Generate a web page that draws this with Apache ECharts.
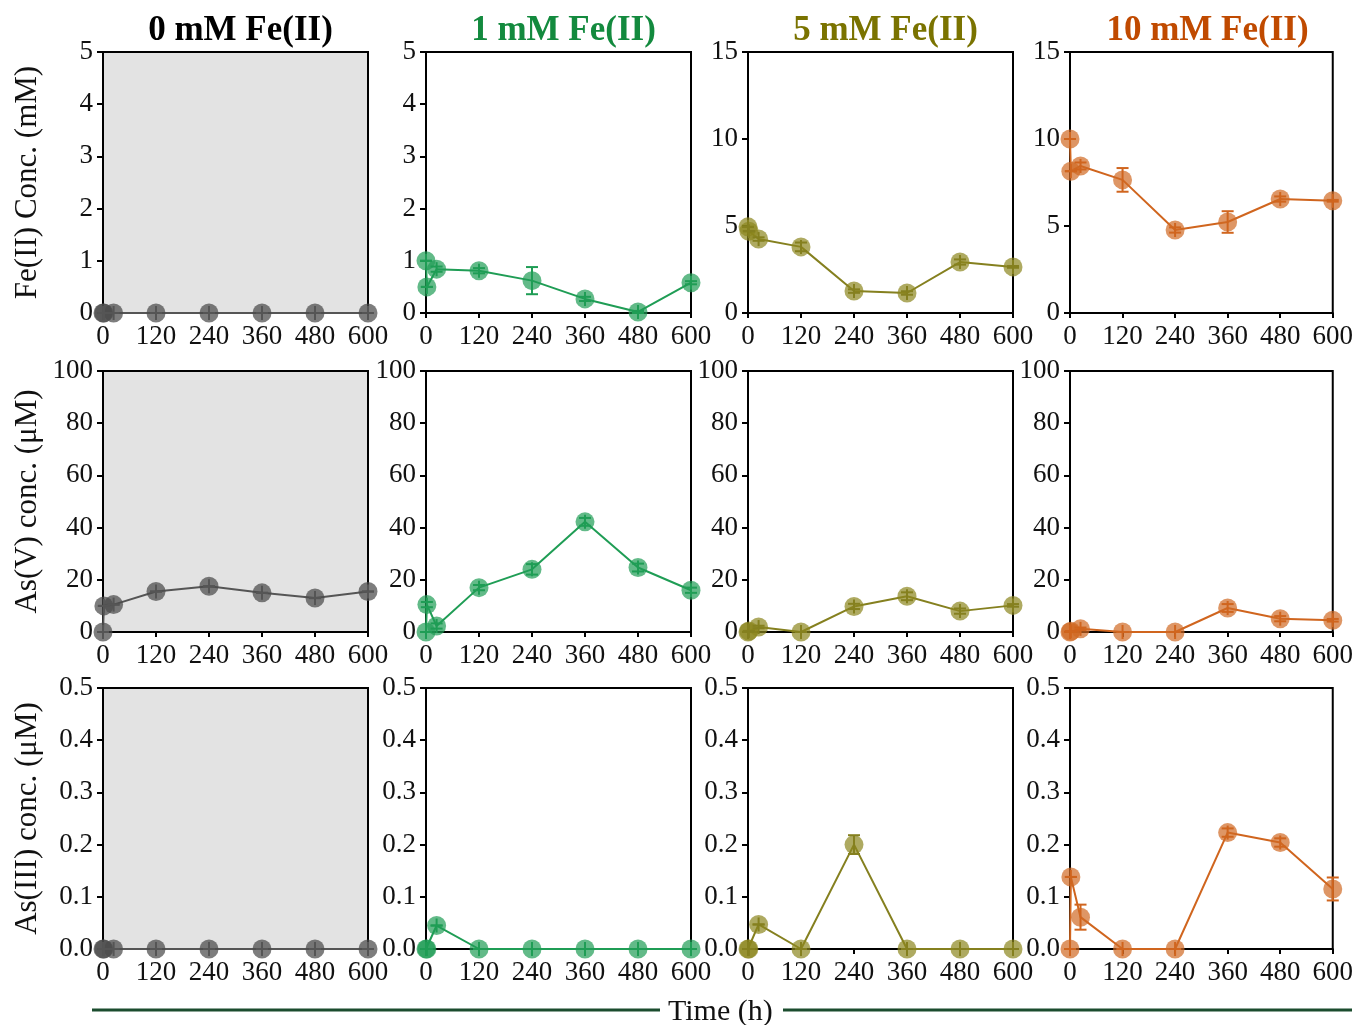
<!DOCTYPE html>
<html>
<head>
<meta charset="utf-8">
<script src="https://cdn.jsdelivr.net/npm/echarts@6/dist/echarts.min.js"></script>
<style>
  html, body { margin: 0; padding: 0; background: #fff; }
  #main { width: 1356px; height: 1025px; }
</style>
</head>
<body>
<div id="main"></div>
<script>
// sampling times (h)
var times = [0, 2, 24, 120, 240, 360, 480, 600];
var panelTitles = ['0 mM Fe(II)', '1 mM Fe(II)', '5 mM Fe(II)', '10 mM Fe(II)'];
var rowNames = ['Fe(II) Conc. (mM)', 'As(V) conc. (\u03bcM)', 'As(III) conc. (\u03bcM)'];

// Fe(II) concentration, mM
var fe_0mM = [0, 0, 0, 0, 0, 0, 0, 0];
var fe_1mM = [1.0, 0.5, 0.84, 0.81, 0.62, 0.27, 0.02, 0.58];
var fe_5mM = [4.95, 4.7, 4.25, 3.8, 1.26, 1.15, 2.93, 2.65];
var fe_10mM = [10.0, 8.15, 8.45, 7.65, 4.77, 5.23, 6.55, 6.45];
var fe_1mM_err = [0, 0, 0.05, 0.05, 0.26, 0.04, 0.02, 0.03];
var fe_5mM_err = [0, 0, 0.1, 0.25, 0.1, 0.1, 0.15, 0.05];
var fe_10mM_err = [0, 0, 0.2, 0.68, 0.15, 0.62, 0.15, 0.05];

// As(V) concentration, uM
var asv_0mM = [0, 10, 10.5, 15.5, 17.5, 15, 13, 15.5];
var asv_1mM = [0, 10.5, 2.3, 17, 24, 42.2, 24.7, 16];
var asv_5mM = [0, 0.4, 1.9, 0, 9.8, 13.7, 8, 10.2];
var asv_10mM = [0, 0.3, 1.2, 0, 0, 9.2, 5.1, 4.5];
var asv_1mM_err = [0, 1, 1, 1, 2, 1.5, 1.5, 1];
var asv_5mM_err = [0, 0, 0.5, 0, 1, 1.5, 1, 0.5];
var asv_10mM_err = [0, 0, 0.5, 0, 0, 1.5, 1, 0.5];

// As(III) concentration, uM
var as3_0mM = [0, 0, 0, 0, 0, 0, 0, 0];
var as3_1mM = [0, 0, 0.045, 0, 0, 0, 0, 0];
var as3_5mM = [0, 0, 0.047, 0, 0.2, 0, 0, 0];
var as3_10mM = [0, 0.138, 0.061, 0, 0, 0.223, 0.204, 0.115];
var as3_5mM_err = [0, 0, 0, 0, 0.018, 0, 0, 0];
var as3_10mM_err = [0, 0, 0.024, 0, 0, 0.008, 0.008, 0.022];

var zeros = [0, 0, 0, 0, 0, 0, 0, 0];

var rows = [
  [fe_0mM, fe_1mM, fe_5mM, fe_10mM],
  [asv_0mM, asv_1mM, asv_5mM, asv_10mM],
  [as3_0mM, as3_1mM, as3_5mM, as3_10mM]
];
var rowErrs = [
  [zeros, fe_1mM_err, fe_5mM_err, fe_10mM_err],
  [zeros, asv_1mM_err, asv_5mM_err, asv_10mM_err],
  [zeros, zeros, as3_5mM_err, as3_10mM_err]
];
var yMax = [[5, 5, 15, 15], [100, 100, 100, 100], [0.5, 0.5, 0.5, 0.5]];
var yStep = [[1, 1, 5, 5], [20, 20, 20, 20], [0.1, 0.1, 0.1, 0.1]];

var lineColors = ['#555555', '#1f9d55', '#85801f', '#d0651e'];
var dotColors = ['rgba(75,75,75,0.72)', 'rgba(31,157,85,0.7)', 'rgba(140,134,30,0.7)', 'rgba(208,105,35,0.7)'];
var titleColors = ['#000000', '#138a3e', '#7a7300', '#c04a00'];

var colLeft = [103, 426, 748, 1070];
var rowTop = [52, 371, 688];
var W = 265, H = 261;
var FONT = '"Liberation Serif", "Times New Roman", serif';

var myChart = echarts.init(document.getElementById('main'));
var option;

function errBar(color) {
  return function (params, api) {
    var x = api.value(0), y = api.value(1), e = api.value(2);
    var c = api.coord([x, y]);
    var hi = api.coord([x, y + e]);
    var lo = api.coord([x, y - e]);
    var top = Math.min(hi[1], c[1] - 7);
    var bot = Math.max(lo[1], c[1] + 7);
    var st = { stroke: color, lineWidth: 2 };
    return {
      type: 'group',
      children: [
        { type: 'line', shape: { x1: c[0], y1: top, x2: c[0], y2: bot }, style: st },
        { type: 'line', shape: { x1: c[0] - 6, y1: hi[1], x2: c[0] + 6, y2: hi[1] }, style: st },
        { type: 'line', shape: { x1: c[0] - 6, y1: lo[1], x2: c[0] + 6, y2: lo[1] }, style: st }
      ]
    };
  };
}

var grids = [], xAxes = [], yAxes = [], series = [];
for (var r = 0; r < 3; r++) {
  for (var c = 0; c < 4; c++) {
    var idx = r * 4 + c;
    grids.push({
      left: colLeft[c], top: rowTop[r], width: W, height: H,
      show: true, borderColor: '#000', borderWidth: 2,
      backgroundColor: c === 0 ? '#e3e3e3' : '#fff'
    });
    xAxes.push({
      type: 'value', gridIndex: idx, min: 0, max: 600, interval: 120,
      axisLine: { show: true, onZero: false, lineStyle: { color: '#000', width: 2 } },
      axisTick: { show: true, length: 5, lineStyle: { color: '#000', width: 2 } },
      axisLabel: { color: '#111', fontFamily: FONT, fontSize: 27, margin: 10 },
      splitLine: { show: false }
    });
    var step = yStep[r][c];
    yAxes.push({
      type: 'value', gridIndex: idx, min: 0, max: yMax[r][c], interval: step,
      name: c === 0 ? rowNames[r] : '',
      nameLocation: 'middle', nameGap: 60, nameRotate: 90,
      nameTextStyle: { color: '#111', fontFamily: FONT, fontSize: 31 },
      axisLine: { show: true, lineStyle: { color: '#000', width: 2 } },
      axisTick: { show: true, length: 6, lineStyle: { color: '#000', width: 2 } },
      axisLabel: {
        color: '#111', fontFamily: FONT, fontSize: 27, margin: 10,
        formatter: (function (s) {
          return function (v) { return s < 1 ? v.toFixed(1) : String(v); };
        })(step)
      },
      splitLine: { show: false }
    });
    var vals = rows[r][c], errs = rowErrs[r][c];
    var pts = times.map(function (t, i) { return [t, vals[i]]; });
    var ebs = times.map(function (t, i) { return [t, vals[i], errs[i]]; });
    series.push({
      type: 'line', xAxisIndex: idx, yAxisIndex: idx, data: pts,
      symbol: 'circle', symbolSize: 19, clip: false,
      lineStyle: { color: lineColors[c], width: 2 },
      itemStyle: { color: dotColors[c] },
      z: 3
    });
    series.push({
      type: 'custom', xAxisIndex: idx, yAxisIndex: idx, data: ebs,
      renderItem: errBar(lineColors[c]), clip: false, silent: true, z: 4
    });
  }
}

var titles = panelTitles.map(function (t, c) {
  return {
    text: t, left: colLeft[c] + W / 2, top: 8, textAlign: 'center',
    textStyle: { color: titleColors[c], fontFamily: FONT, fontSize: 35, fontWeight: 'bold' }
  };
});

option = {
  backgroundColor: '#fff',
  animation: false,
  title: titles,
  grid: grids,
  xAxis: xAxes,
  yAxis: yAxes,
  series: series,
  graphic: [
    { type: 'line', shape: { x1: 92, y1: 1010, x2: 660, y2: 1010 }, style: { stroke: '#1b4d2e', lineWidth: 3 } },
    { type: 'line', shape: { x1: 783, y1: 1010, x2: 1352, y2: 1010 }, style: { stroke: '#1b4d2e', lineWidth: 3 } },
    { type: 'text', left: 668, top: 997, style: { text: 'Time (h)', fill: '#111', font: '30px "Liberation Serif", serif' } }
  ]
};

option && myChart.setOption(option);
</script>
</body>
</html>
